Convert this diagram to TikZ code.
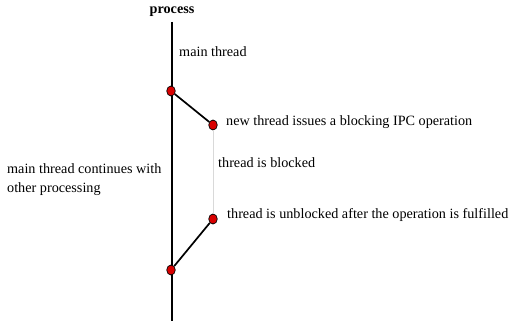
\documentclass[tikz,border=0pt]{standalone}
\usepackage{fontspec}
\setmainfont{Liberation Serif}
\usetikzlibrary{shapes.geometric}
\newcommand{\mainx}{172}
\newcommand{\sidex}{213}
\newcommand{\txtfont}{\fontsize{14.2}{19}\selectfont}

\begin{document}
\begin{tikzpicture}[
      x=1pt, y=-1pt,
      thread/.style={line width=1.7pt},
      blocked/.style={line width=0.4pt, color=black!15},
      event/.style={ellipse, draw=black, fill=red!85!black, line width=0.7pt,
                    inner sep=0pt, minimum width=8.5pt, minimum height=10pt},
      label/.style={anchor=west, inner sep=0pt, font=\txtfont}
    ]
    \useasboundingbox (0,0) rectangle (511,321);
    %the process line
    \node[font=\txtfont\bfseries] (proc) at (\mainx,12) {process};
    \coordinate (top) at (\mainx,22);
    \coordinate (bottom) at (\mainx,321);
    \draw [thread](top) -- (bottom);
    % Draw the events
    \node[event] (fork) at (171,91) {};
    \node[event] (block) at (\sidex,125) {};
    \node[event] (unblock) at (\sidex,219) {};
    \node[event] (join) at (171,270) {};
    \draw [thread](fork) -- (block);
    \draw [blocked](block) -- (unblock);
    \draw [thread](unblock) -- (join);
    %the labels
    \node[label] (lmain) at (179,52) {main thread};
    \node[label] (lblock) at (226,122) {new thread issues a blocking IPC operation};
    \node[label] (lwait) at (218,163) {thread is blocked};
    \node[label] (lunblock) at (227,215) {thread is unblocked after the operation is fulfilled};
    \node[label, align=left] (lcont) at (7,180) {main thread continues with\\other processing};
\end{tikzpicture}
\end{document}
